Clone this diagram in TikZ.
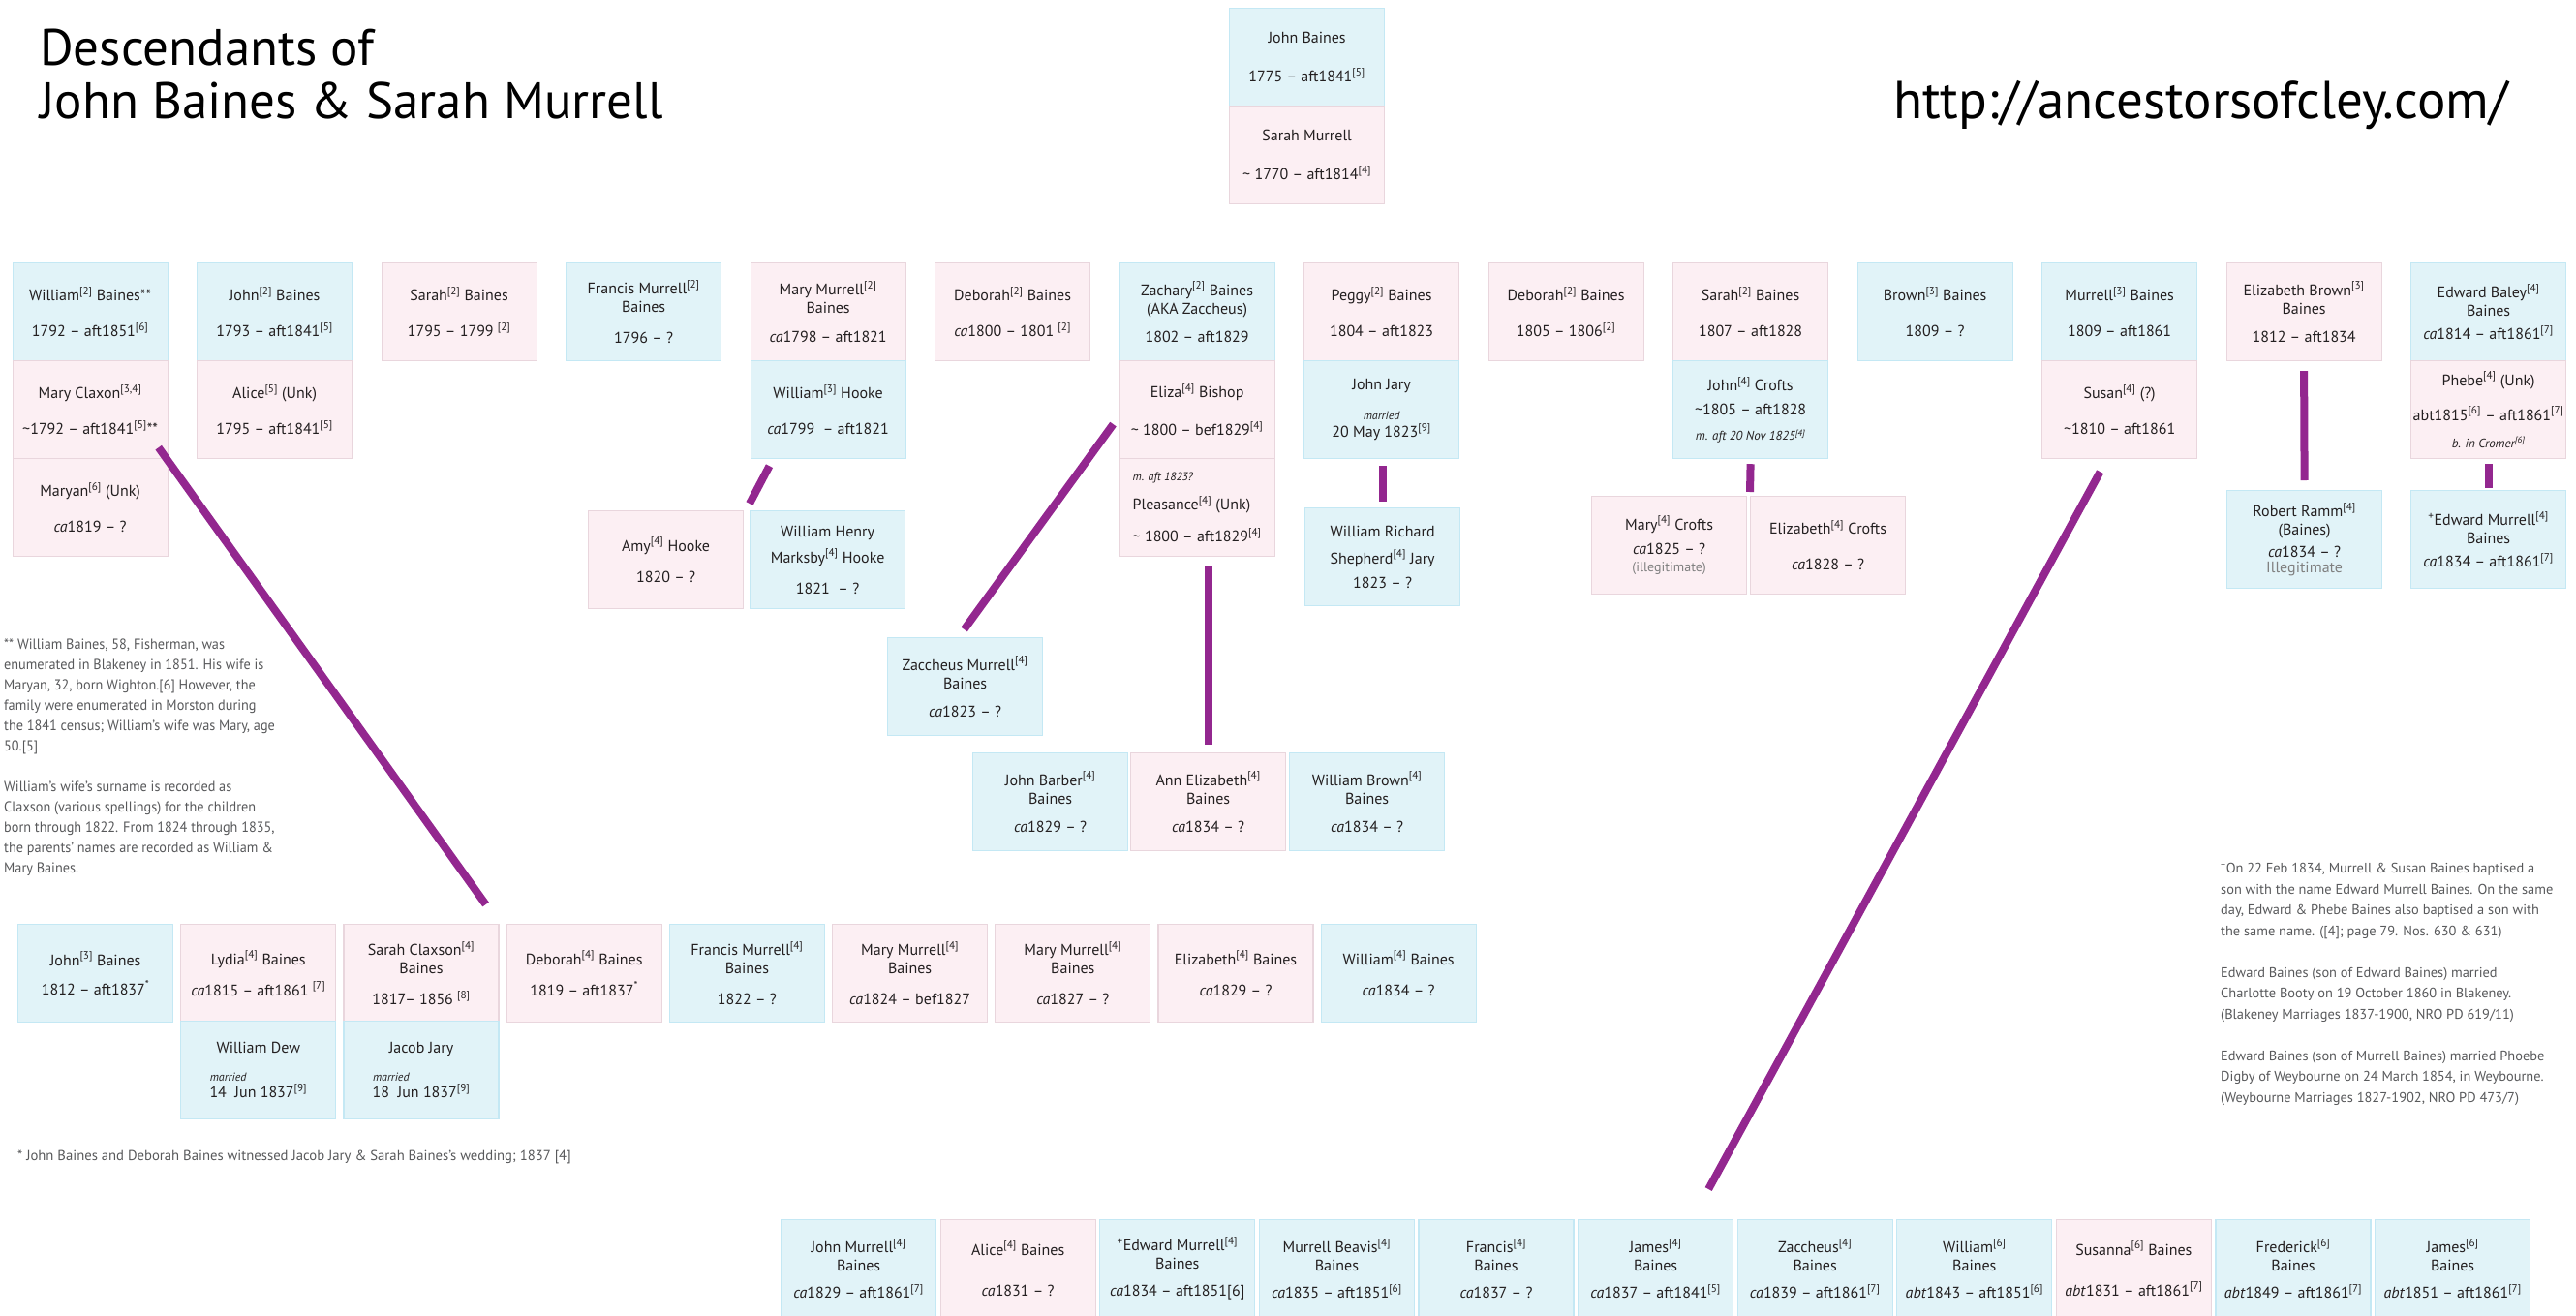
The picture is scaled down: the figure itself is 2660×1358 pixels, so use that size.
\documentclass[tikz,border=0pt]{standalone}
\usepackage{fontspec}
\setmainfont{PT Sans}
\newfontfamily\notefont[FakeStretch=0.95]{PT Sans}
\definecolor{bfill}{RGB}{225,243,248}
\definecolor{bline}{RGB}{196,232,244}
\definecolor{pfill}{RGB}{252,239,243}
\definecolor{pline}{RGB}{233,214,221}
\definecolor{lnk}{RGB}{147,39,143}
\definecolor{txt}{RGB}{35,31,32}
\definecolor{note}{RGB}{88,89,91}
\newcommand{\rf}[1]{\textsuperscript{[#1]}}

\begin{document}
\begin{tikzpicture}[x=1pt, y=-1pt,
  bx/.style={anchor=north west, minimum width=160pt, minimum height=101pt, inner sep=1pt, align=center, text=txt, line width=1.2pt, font=\fontsize{16}{19}\selectfont},
  bl/.style={bx, draw=bline, fill=bfill},
  pk/.style={bx, draw=pline, fill=pfill},
  lk/.style={draw=lnk, line width=8pt},
  nt/.style={anchor=north west, inner sep=0pt, align=left, text=note}]
\useasboundingbox (0,0) rectangle (2660,1358);
\fill[white] (0,0) rectangle (2660,1358);

\node[anchor=base west, inner sep=0pt, font=\fontsize{53}{55}\selectfont] (t1) at (41,67) {Descendants of};
\node[anchor=base west, inner sep=0pt, font=\fontsize{53}{55}\selectfont] (t2) at (41,122) {John Baines \& Sarah Murrell};
\node[anchor=base west, inner sep=0pt, font=\fontsize{55}{57}\selectfont] (t3) at (1955,122) {http://ancestorsofcley.com/};

\node[bl] (v1) at (1269,8) {John Baines\\[21pt]1775 – aft1841\rf{5}};
\node[pk] (v2) at (1269,109) {Sarah Murrell\\[21pt]\textasciitilde\ 1770 – aft1814\rf{4}};

\node[bl] (v3) at (12.5,271) {William\rf{2} Baines**\\[18pt]1792 – aft1851\rf{6}};
\node[pk] (v4) at (12.5,372) {Mary Claxon\rf{3,4}\\[18pt]\textasciitilde1792 – aft1841\rf{5}**};
\node[pk] (v5) at (12.5,473) {Maryan\rf{6} (Unk)\\[18pt]\textit{ca}1819 – ?};
\node[bl] (v6) at (203,271) {John\rf{2} Baines\\[18pt]1793 – aft1841\rf{5}};
\node[pk] (v7) at (203,372) {Alice\rf{5} (Unk)\\[18pt]1795 – aft1841\rf{5}};
\node[pk] (v8) at (393.5,271) {Sarah\rf{2} Baines\\[18pt]1795 – 1799 \rf{2}};
\node[bl] (v9) at (584,271) {Francis Murrell\rf{2}\\Baines\\[13pt]1796 – ?};
\node[pk] (v10) at (774.5,271) {Mary Murrell\rf{2}\\Baines\\[11pt]\textit{ca}1798 – aft1821};
\node[bl] (v11) at (774.5,372) {William\rf{3} Hooke\\[18pt]\textit{ca}1799 \ – aft1821};
\node[pk] (v12) at (965,271) {Deborah\rf{2} Baines\\[18pt]\textit{ca}1800 – 1801 \rf{2}};
\node[bl] (v13) at (1155.5,271) {Zachary\rf{2} Baines\\(AKA Zaccheus)\\[10pt]1802 – aft1829};
\node[pk] (v14) at (1155.5,372) {Eliza\rf{4} Bishop\\[20pt]\textasciitilde\ 1800 – bef1829\rf{4}};
\node[pk, align=left] (v15) at (1155.5,473) {{\fontsize{12}{12}\selectfont\itshape m. aft 1823?}\\[11pt]Pleasance\rf{4} (Unk)\\[14pt]\textasciitilde\ 1800 – aft1829\rf{4}};
\node[pk] (v16) at (1346,271) {Peggy\rf{2} Baines\\[18pt]1804 – aft1823};
\node[bl] (v17) at (1346,372) {John Jary\\[12pt]{\fontsize{12}{12}\selectfont\itshape married}\\[-1pt]20 May 1823\rf{9}};
\node[pk] (v18) at (1536.5,271) {Deborah\rf{2} Baines\\[18pt]1805 – 1806\rf{2}};
\node[pk] (v19) at (1727,271) {Sarah\rf{2} Baines\\[18pt]1807 – aft1828};
\node[bl] (v20) at (1727,372) {John\rf{4} Crofts\\[6pt]\textasciitilde1805 – aft1828\\[7pt]{\fontsize{13}{13}\selectfont\itshape m. aft 20 Nov 1825\rf{4}}};
\node[bl] (v21) at (1917.5,271) {Brown\rf{3} Baines\\[18pt]1809 – ?};
\node[bl] (v22) at (2108,271) {Murrell\rf{3} Baines\\[18pt]1809 – aft1861};
\node[pk] (v23) at (2108,372) {Susan\rf{4} (?)\\[18pt]\textasciitilde1810 – aft1861};
\node[pk] (v24) at (2298.5,271) {Elizabeth Brown\rf{3}\\Baines\\[10pt]1812 – aft1834};
\node[bl] (v25) at (2489,271) {Edward Baley\rf{4}\\Baines\\[5pt]\textit{ca}1814 – aft1861\rf{7}};
\node[pk] (v26) at (2489,372) {Phebe\rf{4} (Unk)\\[17pt]abt1815\rf{6} – aft1861\rf{7}\\[9pt]{\fontsize{13}{13}\selectfont\itshape b. in Cromer\rf{6}}};

\node[pk] (v27) at (607,527) {Amy\rf{4} Hooke\\[13pt]1820 – ?};
\node[bl] (v28) at (774,527) {William Henry\\[8pt]Marksby\rf{4} Hooke\\[13pt]1821 \ – ?};
\node[bl] (v29) at (916,658) {Zaccheus Murrell\rf{4}\\Baines\\[10pt]\textit{ca}1823 – ?};
\node[bl] (v30) at (1004,777) {John Barber\rf{4}\\Baines\\[10pt]\textit{ca}1829 – ?};
\node[pk] (v31) at (1167,777) {Ann Elizabeth\rf{4}\\Baines\\[10pt]\textit{ca}1834 – ?};
\node[bl] (v32) at (1331,777) {William Brown\rf{4}\\Baines\\[10pt]\textit{ca}1834 – ?};
\node[bl] (v33) at (1347,524) {William Richard\\[9pt]Shepherd\rf{4} Jary\\[6pt]1823 – ?};
\node[pk] (v34) at (1643,512) {Mary\rf{4} Crofts\\[6pt]\textit{ca}1825 – ?\\[-1pt]{\color{gray}\fontsize{14}{14}\selectfont (illegitimate)}};
\node[pk] (v35) at (1807,512) {Elizabeth\rf{4} Crofts\\[18pt]\textit{ca}1828 – ?};
\node[bl] (v36) at (2299,506) {Robert Ramm\rf{4}\\(Baines)\\[4pt]\textit{ca}1834 – ?\\[-3pt]{\color{gray}Illegitimate}};
\node[bl] (v37) at (2489,506) {\textsuperscript{+}Edward Murrell\rf{4}\\Baines\\[5pt]\textit{ca}1834 – aft1861\rf{7}};

\node[bl] (v38) at (18,954) {John\rf{3} Baines\\[11pt]1812 – aft1837\textsuperscript{*}};
\node[pk] (v39) at (186.2,954) {Lydia\rf{4} Baines\\[13pt]\textit{ca}1815 – aft1861 \rf{7}};
\node[pk] (v40) at (354.4,954) {Sarah Claxson\rf{4}\\Baines\\[13pt]1817– 1856 \rf{8}};
\node[pk] (v41) at (522.6,954) {Deborah\rf{4} Baines\\[13pt]1819 – aft1837\textsuperscript{*}};
\node[bl] (v42) at (690.8,954) {Francis Murrell\rf{4}\\Baines\\[13pt]1822 – ?};
\node[pk] (v43) at (859,954) {Mary Murrell\rf{4}\\Baines\\[13pt]\textit{ca}1824 – bef1827};
\node[pk] (v44) at (1027.2,954) {Mary Murrell\rf{4}\\Baines\\[13pt]\textit{ca}1827 – ?};
\node[pk] (v45) at (1195.4,954) {Elizabeth\rf{4} Baines\\[13pt]\textit{ca}1829 – ?};
\node[bl] (v46) at (1363.6,954) {William\rf{4} Baines\\[13pt]\textit{ca}1834 – ?};
\node[bl] (v47) at (186.2,1054) {William Dew\\[10pt]\makebox[100pt][l]{\fontsize{12}{12}\selectfont\itshape married}\\[-2pt]14 \ Jun 1837\rf{9}};
\node[bl] (v48) at (354.4,1054) {Jacob Jary\\[10pt]\makebox[100pt][l]{\fontsize{12}{12}\selectfont\itshape married}\\[-2pt]18 \ Jun 1837\rf{9}};

\node[bl] (v49) at (806,1259) {John Murrell\rf{4}\\Baines\\[9pt]\textit{ca}1829 – aft1861\rf{7}};
\node[pk] (v50) at (970.6,1259) {Alice\rf{4} Baines\\[23pt]\textit{ca}1831 – ?};
\node[bl] (v51) at (1135.2,1259) {\textsuperscript{+}Edward Murrell\rf{4}\\Baines\\[9pt]\textit{ca}1834 – aft1851[6]};
\node[bl] (v52) at (1299.8,1259) {Murrell Beavis\rf{4}\\Baines\\[9pt]\textit{ca}1835 – aft1851\rf{6}};
\node[bl] (v53) at (1464.4,1259) {Francis\rf{4}\\Baines\\[9pt]\textit{ca}1837 – ?};
\node[bl] (v54) at (1629,1259) {James\rf{4}\\Baines\\[9pt]\textit{ca}1837 – aft1841\rf{5}};
\node[bl] (v55) at (1793.6,1259) {Zaccheus\rf{4}\\Baines\\[9pt]\textit{ca}1839 – aft1861\rf{7}};
\node[bl] (v56) at (1958.2,1259) {William\rf{6}\\Baines\\[9pt]\textit{abt}1843 – aft1851\rf{6}};
\node[pk] (v57) at (2122.8,1259) {Susanna\rf{6} Baines\\[23pt]\textit{abt}1831 – aft1861\rf{7}};
\node[bl] (v58) at (2287.4,1259) {Frederick\rf{6}\\Baines\\[9pt]\textit{abt}1849 – aft1861\rf{7}};
\node[bl] (v59) at (2452,1259) {James\rf{6}\\Baines\\[9pt]\textit{abt}1851 – aft1861\rf{7}};

\node[nt, font=\notefont\fontsize{15}{21}\selectfont] (n1) at (4,660) {** William Baines, 58, Fisherman, was\\enumerated in Blakeney in 1851. His wife is\\Maryan, 32, born Wighton.[6] However, the\\family were enumerated in Morston during\\the 1841 census; William’s wife was Mary, age\\50.[5]\\[21pt]William’s wife’s surname is recorded as\\Claxson (various spellings) for the children\\born through 1822. From 1824 through 1835,\\the parents’ names are recorded as William \&\\Mary Baines.};
\node[nt, font=\fontsize{14.7}{21}\selectfont] (n2) at (18,1188) {* John Baines and Deborah Baines witnessed Jacob Jary \& Sarah Baines’s wedding; 1837 [4]};
\node[nt, font=\fontsize{14.4}{21.5}\selectfont] (n3) at (2293,891) {\textsuperscript{+}On 22 Feb 1834, Murrell \& Susan Baines baptised a\\son with the name Edward Murrell Baines. On the same\\day, Edward \& Phebe Baines also baptised a son with\\the same name. ([4]; page 79. Nos. 630 \& 631)\\[21.5pt]Edward Baines (son of Edward Baines) married\\Charlotte Booty on 19 October 1860 in Blakeney.\\(Blakeney Marriages 1837-1900, NRO PD 619/11)\\[21.5pt]Edward Baines (son of Murrell Baines) married Phoebe\\Digby of Weybourne on 24 March 1854, in Weybourne.\\(Weybourne Marriages 1827-1902, NRO PD 473/7)};

\draw[lk] ([xshift=-10pt,yshift=12pt]v4.south east) edge ([xshift=-14pt,yshift=20pt]v40.north east);
\draw[lk] ([xshift=20pt,yshift=-7pt]v11.south west) edge ([yshift=7pt]v28.north west);
\draw[lk] ([xshift=-6pt,yshift=-15pt]v14.west) edge ([xshift=-1pt,yshift=8pt]v29.north);
\draw[lk] ([xshift=11.5pt,yshift=-10pt]v15.south) edge ([yshift=8pt]v31.north);
\draw[lk] ([xshift=1pt,yshift=-7pt]v17.south) edge ([yshift=6pt]v33.north);
\draw[lk] ([yshift=-5pt]v20.south) edge ([yshift=4pt]v35.north west);
\draw[lk] ([yshift=-10pt]v24.south) edge ([yshift=10pt]v36.north);
\draw[lk] ([yshift=-5pt]v26.south) edge ([yshift=2pt]v37.north);
\draw[lk] ([xshift=-20pt,yshift=-13pt]v23.south) edge ([xshift=-26pt,yshift=31pt]v54.north east);

\end{tikzpicture}
\end{document}
